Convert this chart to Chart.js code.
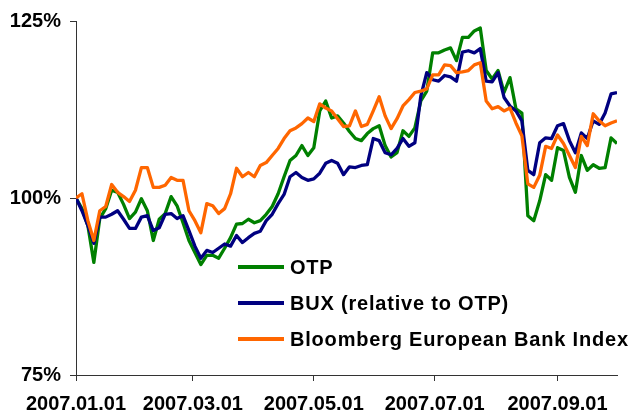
<!DOCTYPE html>
<html>
<head>
<meta charset="utf-8">
<script src="https://cdn.jsdelivr.net/npm/chart.js@4.4.0/dist/chart.umd.min.js"></script>
<style>
  html, body { margin: 0; padding: 0; background: #fff; }
  #wrap { width: 632px; height: 414px; }
</style>
</head>
<body>
<div id="wrap"><canvas id="perfChart" width="632" height="414"></canvas></div>
<script>
// Dátumok (3 naponként) és az indexált értékek (%)
const dates = [
  '2007.01.01','2007.01.04','2007.01.07','2007.01.10','2007.01.13','2007.01.16','2007.01.19','2007.01.22','2007.01.25','2007.01.28','2007.01.31',
  '2007.02.03','2007.02.06','2007.02.09','2007.02.12','2007.02.15','2007.02.18','2007.02.21','2007.02.24','2007.02.27',
  '2007.03.02','2007.03.05','2007.03.08','2007.03.11','2007.03.14','2007.03.17','2007.03.20','2007.03.23','2007.03.26','2007.03.29',
  '2007.04.01','2007.04.04','2007.04.07','2007.04.10','2007.04.13','2007.04.16','2007.04.19','2007.04.22','2007.04.25','2007.04.28',
  '2007.05.01','2007.05.04','2007.05.07','2007.05.10','2007.05.13','2007.05.16','2007.05.19','2007.05.22','2007.05.25','2007.05.28','2007.05.31',
  '2007.06.03','2007.06.06','2007.06.09','2007.06.12','2007.06.15','2007.06.18','2007.06.21','2007.06.24','2007.06.27','2007.06.30',
  '2007.07.03','2007.07.06','2007.07.09','2007.07.12','2007.07.15','2007.07.18','2007.07.21','2007.07.24','2007.07.27','2007.07.30',
  '2007.08.02','2007.08.05','2007.08.08','2007.08.11','2007.08.14','2007.08.17','2007.08.20','2007.08.23','2007.08.26','2007.08.29',
  '2007.09.01','2007.09.04','2007.09.07','2007.09.10','2007.09.13','2007.09.16','2007.09.19','2007.09.22','2007.09.25','2007.09.28',
  '2007.10.01'
];

const otp = [
  100.0, 98.5, 96.1, 90.9, 97.1, 98.5, 101.1, 100.8, 99.1, 97.1,
  98.0, 99.9, 98.2, 94.0, 97.0, 97.8, 100.2, 98.9, 96.5, 94.0,
  92.3, 90.6, 91.9, 91.9, 91.5, 92.9, 94.4, 96.3, 96.4, 97.0,
  96.5, 96.8, 97.7, 98.8, 100.6, 103.0, 105.3, 106.0, 107.4, 106.0,
  107.1, 112.3, 113.7, 111.3, 111.6, 110.6, 109.4, 108.4, 108.1, 109.1,
  109.8, 110.2, 107.4, 105.8, 106.4, 109.5, 108.7, 109.9, 113.7, 115.1,
  120.5, 120.5, 120.9, 121.2, 119.4, 122.7, 122.7, 123.6, 124.0, 118.0,
  116.8, 118.0, 114.9, 117.0, 112.6, 112.0, 97.5, 96.8, 99.6, 103.3,
  102.5, 107.1, 106.7, 102.9, 100.8, 106.0, 103.9, 104.7, 104.2, 104.3,
  108.5, 107.7
];

const bux = [
  100.0, 98.2, 96.1, 93.6, 97.3, 97.3, 97.7, 98.2, 97.0, 95.7,
  95.7, 97.3, 97.5, 95.4, 95.8, 97.7, 97.8, 97.1, 97.5, 95.4,
  93.2, 91.5, 92.6, 92.3, 92.9, 93.5, 93.2, 94.7, 93.7, 94.4,
  95.0, 95.3, 96.8, 97.7, 99.2, 100.5, 103.0, 103.6, 102.9, 102.5,
  102.7, 103.5, 104.9, 105.3, 104.9, 103.3, 104.4, 104.3, 104.6, 104.7,
  108.4, 108.1, 106.4, 106.1, 107.0, 108.4, 107.3, 107.8, 114.4, 117.7,
  116.7, 116.5, 117.3, 117.1, 116.5, 120.6, 120.8, 120.5, 121.1, 116.5,
  116.4, 117.7, 114.2, 113.0, 112.3, 110.9, 103.9, 103.3, 107.8, 108.5,
  108.4, 110.2, 110.5, 108.1, 106.4, 109.2, 108.4, 110.9, 110.4, 112.0,
  114.7, 114.9
];

const bankIndex = [
  100.0, 100.6, 96.8, 94.0, 98.2, 98.8, 101.9, 100.8, 100.2, 99.5,
  101.1, 104.3, 104.3, 101.5, 101.5, 101.8, 102.9, 102.5, 102.5, 98.2,
  96.8, 95.1, 99.2, 98.9, 97.8, 98.5, 100.6, 104.2, 103.0, 103.6,
  103.0, 104.6, 105.0, 106.0, 107.0, 108.4, 109.5, 109.9, 110.5, 111.3,
  110.8, 113.3, 112.7, 112.3, 111.2, 110.1, 110.2, 112.3, 110.1, 110.4,
  112.3, 114.3, 111.6, 109.8, 111.2, 113.0, 113.9, 114.9, 115.1, 115.4,
  117.4, 117.4, 118.8, 118.7, 117.7, 117.8, 118.0, 118.8, 119.1, 113.7,
  112.6, 112.9, 112.3, 112.7, 110.6, 108.8, 102.0, 101.5, 103.2, 107.3,
  107.0, 108.9, 107.7, 106.0, 104.3, 108.7, 107.4, 111.9, 110.9, 110.2,
  110.6, 110.9
];

const seriesNames = ['OTP', 'BUX (relative to OTP)', 'Bloomberg European Bank Index'];
const seriesColors = ['#008000', '#000080', '#ff6600'];
const xTickLabels = ['2007.01.01', '2007.03.01', '2007.05.01', '2007.07.01', '2007.09.01'];
const yTickValues = [75, 100, 125];

// napok száma 2007.01.01-től
function dayOf(s) {
  const p = s.split('.').map(Number);
  return (Date.UTC(p[0], p[1] - 1, p[2]) - Date.UTC(2007, 0, 1)) / 864e5;
}

const toPoints = vals => dates.map((d, i) => ({ x: dayOf(d), y: vals[i] }));

Chart.defaults.font.family = "'Liberation Sans', Arial, sans-serif";
Chart.defaults.font.size = 20;
Chart.defaults.font.weight = 'bold';
Chart.defaults.color = '#000';

// saját jelmagyarázat a rajzterületen belül
const insideLegend = {
  id: 'insideLegend',
  afterDraw(chart) {
    const c = chart.ctx;
    const rows = [267, 303, 339];
    c.save();
    c.font = "bold 20px 'Liberation Sans', Arial, sans-serif";
    c.letterSpacing = '0.8px';
    c.textBaseline = 'middle';
    c.fillStyle = '#000';
    seriesNames.forEach((name, i) => {
      c.strokeStyle = seriesColors[i];
      c.lineWidth = 4;
      c.beginPath();
      c.moveTo(238, rows[i]);
      c.lineTo(284, rows[i]);
      c.stroke();
      c.fillText(name, 290, rows[i] + 1);
    });
    c.restore();
  }
};

const ctx = document.getElementById('perfChart').getContext('2d');
const perfChart = new Chart(ctx, {
  type: 'line',
  data: {
    datasets: [
      { label: seriesNames[0], data: toPoints(otp), borderColor: seriesColors[0], order: 3 },
      { label: seriesNames[1], data: toPoints(bux), borderColor: seriesColors[1], order: 2 },
      { label: seriesNames[2], data: toPoints(bankIndex), borderColor: seriesColors[2], order: 1 }
    ]
  },
  options: {
    responsive: false,
    animation: false,
    devicePixelRatio: 1,
    elements: {
      line: { borderWidth: 3.3, tension: 0, borderJoinStyle: 'round' },
      point: { radius: 0 }
    },
    layout: { padding: { top: 20, right: 15, left: 0, bottom: 0 } },
    plugins: { legend: { display: false }, tooltip: { enabled: false } },
    scales: {
      x: {
        type: 'linear',
        min: dayOf(dates[0]),
        max: dayOf(dates[dates.length - 1]),
        afterBuildTicks: s => { s.ticks = xTickLabels.map(l => ({ value: dayOf(l) })); },
        afterFit: s => { s.height = 39; },
        ticks: { autoSkip: false, maxRotation: 0, padding: 11, callback: (v, i) => xTickLabels[i] },
        grid: { drawOnChartArea: false, tickLength: 6, color: '#333' },
        border: { color: '#333', width: 1 }
      },
      y: {
        min: 75,
        max: 125,
        afterBuildTicks: s => { s.ticks = yTickValues.map(v => ({ value: v })); },
        afterFit: s => { s.width = 76; },
        ticks: { padding: 9, callback: v => v + '%' },
        grid: { drawOnChartArea: false, tickLength: 6, color: '#333' },
        border: { color: '#333', width: 1 }
      }
    }
  },
  plugins: [insideLegend]
});
</script>
</body>
</html>
